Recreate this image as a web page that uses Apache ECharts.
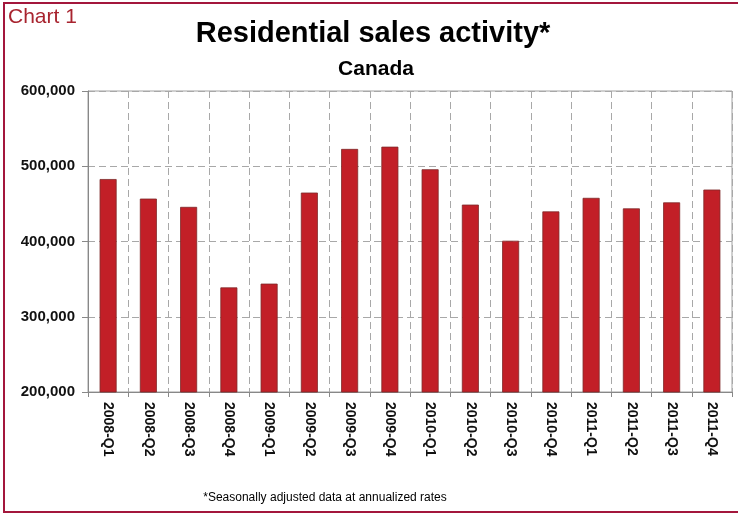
<!DOCTYPE html>
<html>
<head>
<meta charset="utf-8">
<script src="https://cdn.jsdelivr.net/npm/echarts@6/dist/echarts.min.js"></script>
<style>
html,body{margin:0;padding:0;background:#fff;}
#chart{width:738px;height:514px;}
</style>
</head>
<body>
<div id="chart"></div>
<script>
var categories = ['2008-Q1','2008-Q2','2008-Q3','2008-Q4','2009-Q1','2009-Q2','2009-Q3','2009-Q4','2010-Q1','2010-Q2','2010-Q3','2010-Q4','2011-Q1','2011-Q2','2011-Q3','2011-Q4'];
var salesValues = [483000,457000,446000,339000,344000,465000,523000,526000,496000,449000,401000,440000,458000,444000,452000,469000];
var yTicks = [200000,300000,400000,500000,600000];

var chart = echarts.init(document.getElementById('chart'), null, {renderer:'canvas'});
function fmt(v){ return String(v).replace(/\B(?=(\d{3})+(?!\d))/g, ','); }
var FONT = '"Liberation Sans", Arial, sans-serif';
chart.setOption({
  animation:false,
  backgroundColor:'#fff',
  grid:{left:88, right:6, top:91, bottom:122, show:true, borderColor:'#a0a0a0', borderWidth:1, backgroundColor:'transparent'},
  xAxis:{
    type:'category', data:categories,
    axisLine:{lineStyle:{color:'#888', width:1}},
    axisTick:{show:true, length:5, lineStyle:{color:'#888'}},
    splitLine:{show:true, lineStyle:{color:'#a8a8a8', type:[7,4], width:1}},
    axisLabel:{rotate:-90, margin:10, fontFamily:FONT, fontSize:14, fontWeight:'bold', color:'#111'}
  },
  yAxis:{
    type:'value', min:yTicks[0], max:yTicks[yTicks.length-1], interval:100000,
    axisLine:{show:true, lineStyle:{color:'#888', width:1}},
    axisTick:{show:true, length:6, lineStyle:{color:'#888'}},
    splitLine:{show:true, lineStyle:{color:'#a8a8a8', type:[7,4], width:1}},
    axisLabel:{margin:13, fontFamily:FONT, fontSize:15, fontWeight:'bold', color:'#111', formatter:fmt}
  },
  series:[{
    type:'bar', data:salesValues, barWidth:17,
    itemStyle:{color:'#C21F27', borderColor:'#7d2a2a', borderWidth:0.8}
  }],
  graphic:[
    {type:'rect', shape:{x:4, y:3, width:800, height:509}, style:{fill:'none', stroke:'#A3173C', lineWidth:2}, z:100},
    {type:'text', left:8, top:7, style:{text:'Chart 1', font:'21px "Liberation Sans", Arial, sans-serif', fill:'#A8242F'}},
    {type:'text', x:373, y:34, style:{text:'Residential sales activity*', font:'bold 29px "Liberation Sans", Arial, sans-serif', fill:'#000', textAlign:'center', textVerticalAlign:'middle'}},
    {type:'text', x:376, y:69, style:{text:'Canada', font:'bold 21px "Liberation Sans", Arial, sans-serif', fill:'#000', textAlign:'center', textVerticalAlign:'middle'}},
    {type:'text', x:325, y:498, style:{text:'*Seasonally adjusted data at annualized rates', font:'12px "Liberation Sans", Arial, sans-serif', fill:'#000', textAlign:'center', textVerticalAlign:'middle'}}
  ]
});
</script>
</body>
</html>
